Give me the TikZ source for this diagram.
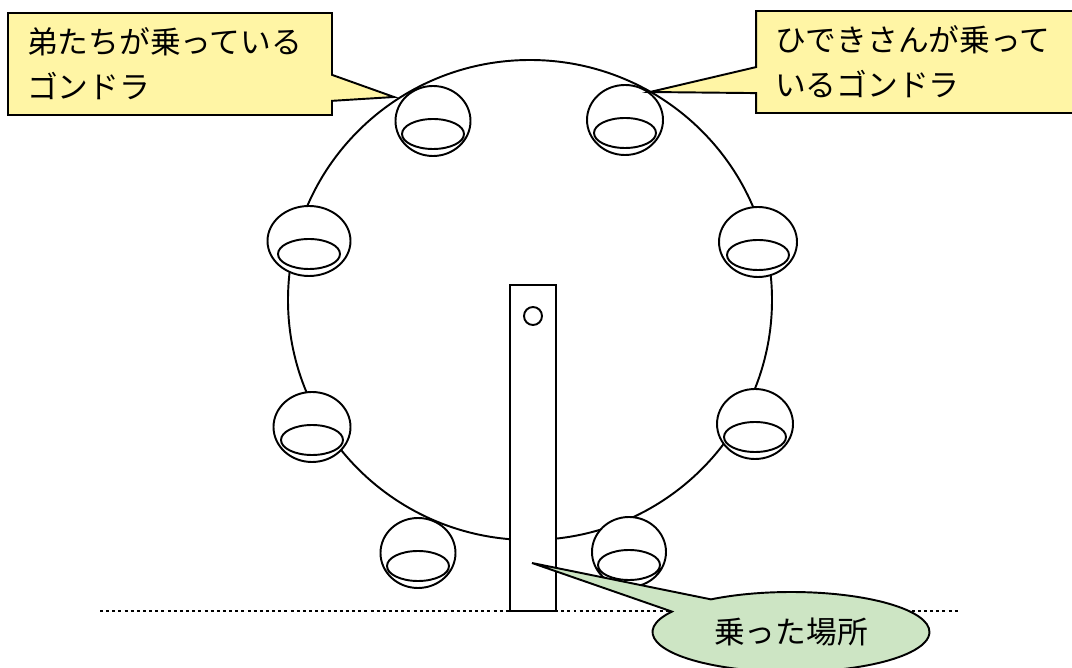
\documentclass[tikz,border=0pt]{standalone}
\usepackage{fontspec}
\newfontfamily\jp{Noto Sans CJK JP}
\usetikzlibrary{shapes.callouts}
\definecolor{memoyellow}{HTML}{FFF5A5}
\definecolor{memogreen}{HTML}{CDE5C4}
\begin{document}
\begin{tikzpicture}[x=0.02cm,y=-0.02cm,line width=1.1pt,
		jptext/.style={font=\jp\fontsize{17.5pt}{25.5pt}\selectfont},
		memo/.style={rectangle callout,draw,fill=memoyellow,jptext,callout pointer width=0.52cm,
			text width=5.72cm,minimum height=2.04cm,inner xsep=0.38cm,align=left},
		spot/.style={ellipse callout,draw,fill=memogreen,jptext,callout pointer arc=24,
			minimum width=5.54cm,minimum height=1.6cm}]
	\useasboundingbox (0,0) rectangle (1072,668);
	\draw (530,300) ellipse [x radius=242, y radius=240];
	\draw[line width=1.7pt,dash pattern=on 1.7pt off 1.8pt] (100,611)--(958,611);
	\draw[fill=white] (510,285) rectangle (556,611);
	\draw (533,316) circle [radius=9];
	\foreach \x/\y/\r/\f in {433/121/37.5/none,625/120/38/none,309/241/41.5/white,758/242/39/white,
		312/427/38.5/white,755/424/38/white,418/553/37.5/white,629/552/37/white}
		\draw[fill=\f] (\x,\y) ellipse [x radius=\r, y radius=35] (\x,\y+13) ellipse [x radius=31, y radius=15];
	\coordinate (tipA) at (394,97);
	\coordinate (tipB) at (650,92);
	\coordinate (tipC) at (532,563);
	\node[memo,callout absolute pointer=(tipA)] (brothers) at (170,64) {弟たちが乗っている\\ゴンドラ};
	\node[memo,callout absolute pointer=(tipB)] (hideki) at (918,62) {ひできさんが乗って\\いるゴンドラ};
	\node[spot,callout absolute pointer=(tipC)] (place) at (791,632) {乗った場所};
\end{tikzpicture}
\end{document}
